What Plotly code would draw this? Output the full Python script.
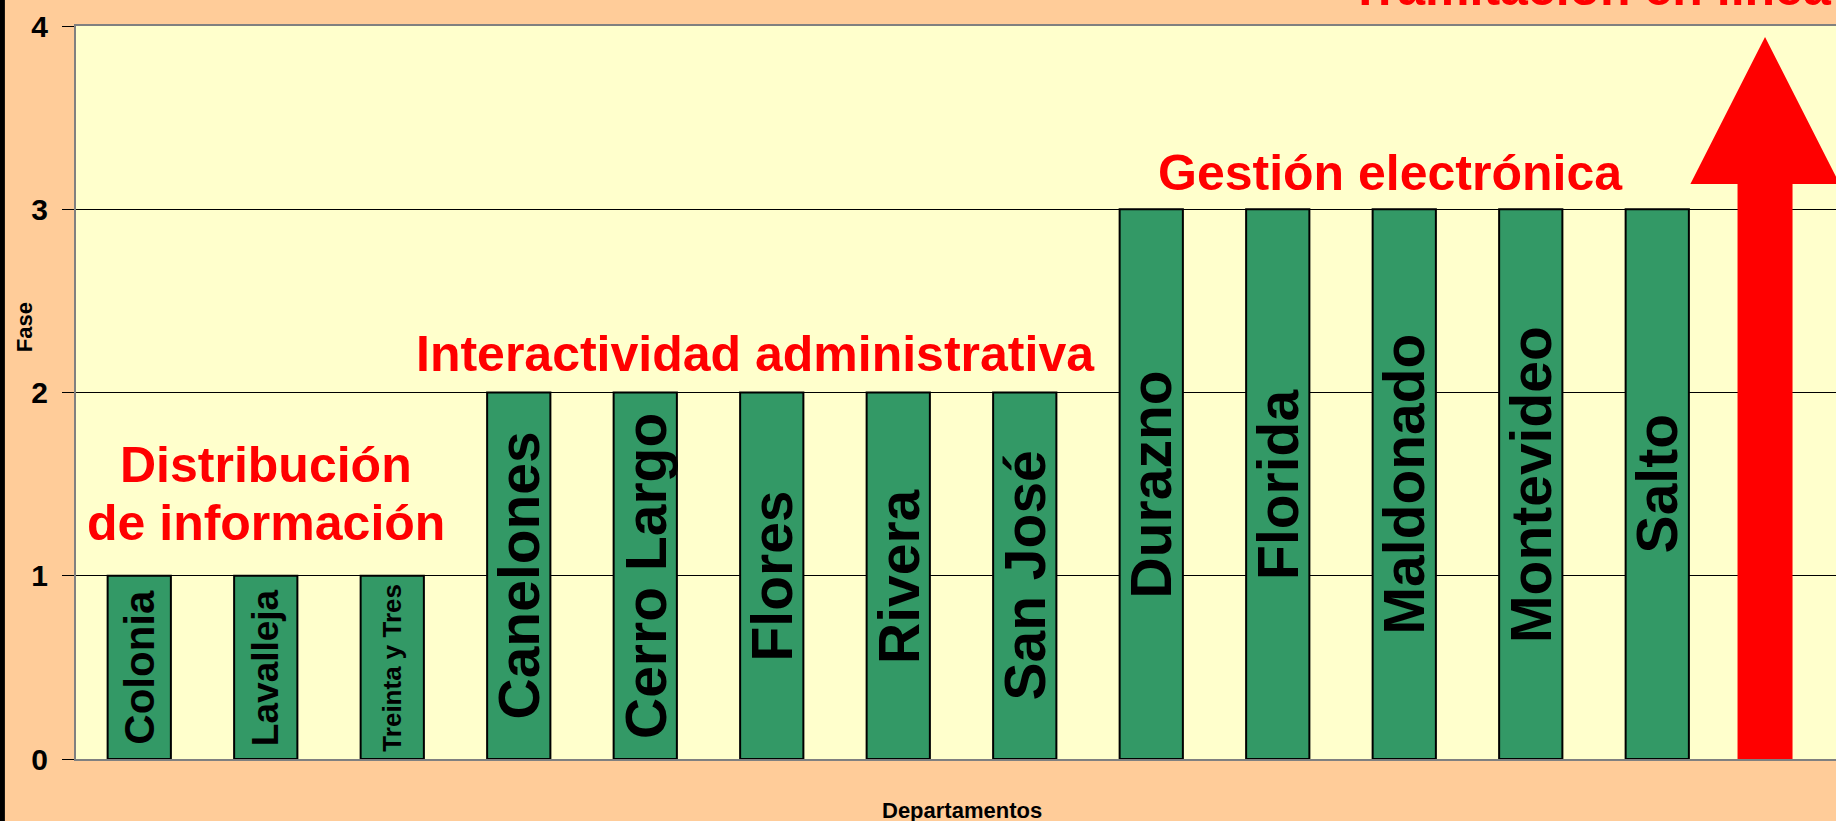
import plotly.graph_objects as go

# ---- data ----
departamentos = ["Colonia", "Lavalleja", "Treinta y Tres", "Canelones", "Cerro Largo",
                 "Flores", "Rivera", "San José", "Durazno", "Florida", "Maldonado",
                 "Montevideo", "Salto"]
fase = [1, 1, 1, 2, 2, 2, 2, 2, 3, 3, 3, 3, 3]
y_ticks = [0, 1, 2, 3, 4]
fase_labels = ["Distribución", "de información", "Interactividad administrativa",
               "Gestión electrónica", "Tramitación en línea"]

# ---- styles ----
FONT = "Liberation Sans, Arial, sans-serif"
label_sizes = {"Colonia": 42, "Lavalleja": 37, "Treinta y Tres": 26}
BIG_LABEL = 57
RED = "#FF0000"

fig = go.Figure()
fig.add_trace(go.Bar(
    x=departamentos, y=fase,
    marker=dict(color="#339966", line=dict(color="#000000", width=2)),
    width=0.5, hoverinfo="x+y",
))

annotations = []
for i, (name, v) in enumerate(zip(departamentos, fase)):
    annotations.append(dict(
        x=i, y=v / 2, xref="x", yref="y", text=name, showarrow=False,
        textangle=-90, xanchor="center", yanchor="middle",
        font=dict(family=FONT, size=label_sizes.get(name, BIG_LABEL), color="black", weight="bold"),
    ))

# phase labels (position in data units / paper for the one above the plot)
phase_pos = [("x", "y", 1.0, 1.607), ("x", "y", 1.0, 1.29), ("x", "y", 4.87, 2.21),
             ("x", "y", 9.89, 3.20), ("paper", "paper", 0.861, 1.0525)]
for txt, (xr, yr, px, py) in zip(fase_labels, phase_pos):
    annotations.append(dict(
        x=px, y=py, xref=xr, yref=yr, text=txt, showarrow=False,
        xanchor="center", yanchor="middle",
        font=dict(family=FONT, size=50, color=RED, weight="bold"),
    ))

# axis titles
annotations.append(dict(x=-0.0296, y=0.589, xref="paper", yref="paper", text="Fase",
                        showarrow=False, textangle=-90, xanchor="center", yanchor="middle",
                        font=dict(family=FONT, size=22, color="black", weight="bold")))
annotations.append(dict(x=0.5034, y=-0.0696, xref="paper", yref="paper", text="Departamentos",
                        showarrow=False, xanchor="center", yanchor="middle",
                        font=dict(family=FONT, size=22, color="black", weight="bold")))

# big red arrow (phase 4) in data units
ac, head_hw, shaft_hw = 12.852, 0.59, 0.2174
tip_y, head_y, bottom_y = 3.94, 3.138, -0.016
arrow_path = (f"M {ac - shaft_hw} {bottom_y} L {ac - shaft_hw} {head_y} L {ac - head_hw} {head_y} "
              f"L {ac} {tip_y} L {ac + head_hw} {head_y} L {ac + shaft_hw} {head_y} "
              f"L {ac + shaft_hw} {bottom_y} Z")
shapes = [
    dict(type="path", path=arrow_path, xref="x", yref="y", fillcolor=RED,
         line=dict(width=0), layer="above"),
    dict(type="rect", xref="paper", yref="paper", x0=-0.0432, x1=-0.0404, y0=-0.2, y1=1.2,
         fillcolor="black", line=dict(width=0), layer="above"),
]

fig.update_layout(
    width=1836, height=821,
    margin=dict(l=76, r=0, t=26, b=62),
    paper_bgcolor="#FFCC99", plot_bgcolor="#FFFFCC",
    showlegend=False,
    annotations=annotations, shapes=shapes,
    xaxis=dict(range=[-0.5, 13.413], showticklabels=False, ticks="", showgrid=False,
               showline=True, mirror=True, linecolor="#808080", linewidth=2, zeroline=False),
    yaxis=dict(range=[0, 4], tickvals=y_ticks, ticks="outside", ticklen=12, tickcolor="black",
               tickwidth=1, showgrid=True, gridcolor="black", gridwidth=1, zeroline=False,
               showline=True, linecolor="#808080", linewidth=2, ticklabelstandoff=8,
               tickfont=dict(family=FONT, size=30, color="black", weight="bold")),
)

fig.write_html("out.html", config={"displayModeBar": False},
               post_script="document.body.style.margin='0';document.body.style.overflow='hidden';")
